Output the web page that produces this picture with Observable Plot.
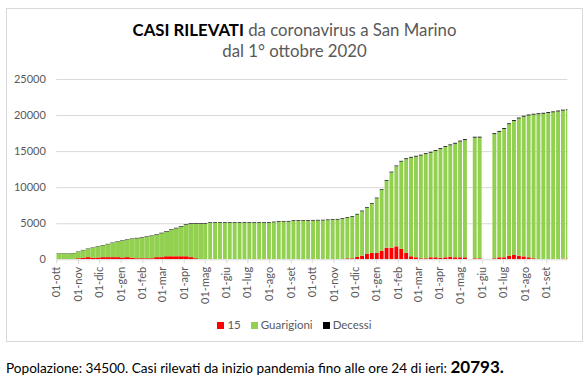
<!DOCTYPE html>
<html><head><meta charset="utf-8">
<script src="https://cdn.jsdelivr.net/npm/d3@7"></script>
<script src="https://cdn.jsdelivr.net/npm/@observablehq/plot@0.6"></script>
<style>
body{margin:0;background:#fff;font-family:Lato,"Open Sans",sans-serif;}
#page{position:relative;width:588px;height:386px;overflow:hidden;background:#fff;}
#frame{position:absolute;left:6px;top:8px;width:577px;height:334px;border:1px solid #d9d9d9;box-sizing:border-box;}
#title{position:absolute;left:6px;width:577px;top:19px;text-align:center;font-size:16.8px;color:#595959;line-height:21px;}
#title b{color:#000;}
#chart{position:absolute;left:0;top:68px;}
#legend{position:absolute;left:6px;width:577px;top:318px;text-align:center;font-size:11.5px;color:#595959;}
#legend span.item{display:inline-block;margin:0 5px;}
#legend span.sw{display:inline-block;width:7px;height:7px;margin-right:3px;vertical-align:0px;}
#caption{position:absolute;left:6px;top:356px;font-size:13.6px;color:#000;white-space:nowrap;}
#caption b{font-size:17px;}
</style></head>
<body><div id="page">
<div id="frame"></div>
<div id="title"><b>CASI RILEVATI</b> da coronavirus a San Marino<br>dal 1° ottobre 2020</div>
<div id="chart"></div>
<div id="legend"></div>
<div id="caption"></div>
</div>
<script>
// Series names and colours
const serie = ["15", "Guarigioni", "Decessi"];
const colori = ["#ff0000", "#92d050", "#000000"];
const mesi = ["gen","feb","mar","apr","mag","giu","lug","ago","set","ott","nov","dic"];
const yTicks = [0, 5000, 10000, 15000, 20000, 25000];
const popolazione = 34500;
const casiTotali = 20793;

// Weekly readings, first week starting 1 Oct 2020 (null = no data)
const inizio = "2020-10-01";
const fine = "2022-10-01";
const attivi = [
  0,0,0,0,150,200,300,200,250,300,
  300,300,300,250,300,200,150,150,150,150,
  300,300,420,420,420,420,420,300,150,0,
  0,0,0,0,0,0,0,0,0,0,
  0,0,0,0,0,0,0,0,0,0,
  0,0,0,0,0,0,0,0,0,140,
  140,320,500,750,880,900,1160,1600,1600,1800,
  1450,900,420,280,140,140,280,280,200,280,
  350,280,280,280,null,140,140,null,null,140,
  280,280,500,600,500,400,280,140,0,0,
  0,0,0,70,140
];
const guarigioni = [
  788,788,788,828,885,1055,1155,1415,1508,1618,
  1788,1958,2110,2320,2410,2620,2753,2853,2953,3073,
  3098,3308,3428,3658,3870,4100,4350,4620,4765,4915,
  4915,5065,5060,5060,5060,5060,5060,5060,5060,5060,
  5060,5060,5070,5080,5130,5200,5210,5230,5310,5340,
  5350,5360,5370,5380,5390,5430,5480,5508,5608,5618,
  5748,5888,6158,6388,6798,7558,8448,9302,10452,11102,
  12102,12994,13674,13964,14254,14454,14514,14764,15094,15294,
  15464,15755,16055,16255,null,16735,16745,null,null,17225,
  17405,17805,18235,18585,19035,19385,19675,19925,20125,20195,
  20285,20385,20505,20555,20536
];
const decessi = [
  42,42,42,42,45,45,45,45,52,52,
  52,52,60,60,60,60,67,67,67,67,
  72,72,72,72,80,80,80,80,85,85,
  85,85,90,90,90,90,90,90,90,90,
  90,90,90,90,90,90,90,90,90,90,
  90,90,90,90,90,90,90,92,92,92,
  92,92,92,92,92,92,92,98,98,98,
  98,106,106,106,106,106,106,106,106,106,
  106,115,115,115,null,115,115,null,null,115,
  115,115,115,115,115,115,115,115,115,115,
  115,115,115,115,117
];

const x0 = new Date(inizio + "T00:00Z"), x1 = new Date(fine + "T00:00Z");
const valori = [attivi, guarigioni, decessi];
const rows = [];
attivi.forEach((_, i) => {
  const date = d3.utcDay.offset(x0, 7 * i);
  const end = d3.utcDay.offset(date, 7);
  serie.forEach((s, k) => {
    const v = valori[k][i];
    if (v != null) rows.push({date, end, serie: s, value: v, i});
  });
});
const maggio = new Date("2021-04-29T00:00Z");
const early = rows.filter(d => d.date < maggio);
const late = rows.filter(d => d.date >= maggio);

const chart = Plot.plot({
  width: 588, height: 250,
  marginTop: 11, marginBottom: 58.7, marginLeft: 56.3, marginRight: 20.7,
  x: {type: "utc", domain: [x0, x1], label: null},
  y: {domain: [0, 25000], label: null},
  color: {domain: serie, range: colori},
  style: {fontFamily: "Lato, sans-serif", fontSize: "11px", color: "#595959", background: "transparent"},
  marks: [
    Plot.gridY(yTicks.slice(1), {stroke: "#d9d9d9", strokeOpacity: 1}),
    Plot.rectY(early, Plot.stackY({x1: "date", x2: "end", y: "value", fill: "serie", order: serie, clip: true})),
    Plot.rectY(late, Plot.stackY({x1: "date", x2: "end", y: "value", fill: "serie", order: serie, insetRight: 1, clip: true})),
    Plot.ruleY([0], {stroke: "#d9d9d9"}),
    Plot.axisY({ticks: yTicks, tickSize: 0, tickPadding: 11, tickFormat: d => String(d), label: null}),
    Plot.axisX({ticks: d3.utcMonths(x0, x1), tickRotate: -90, tickSize: 4, tickPadding: 3, stroke: "#d9d9d9", label: null,
      tickFormat: d => "01-" + mesi[d.getUTCMonth()]})
  ]
});
document.getElementById("chart").appendChild(chart);

const legend = document.getElementById("legend");
serie.forEach((s, k) => {
  const item = document.createElement("span");
  item.className = "item";
  const sw = document.createElement("span");
  sw.className = "sw";
  sw.style.background = colori[k];
  item.appendChild(sw);
  item.appendChild(document.createTextNode(s));
  legend.appendChild(item);
});

document.getElementById("caption").innerHTML =
  "Popolazione: " + popolazione + ". Casi rilevati da inizio pandemia fino alle ore 24 di ieri: <b>" + casiTotali + ".</b>";
</script>
</body></html>
